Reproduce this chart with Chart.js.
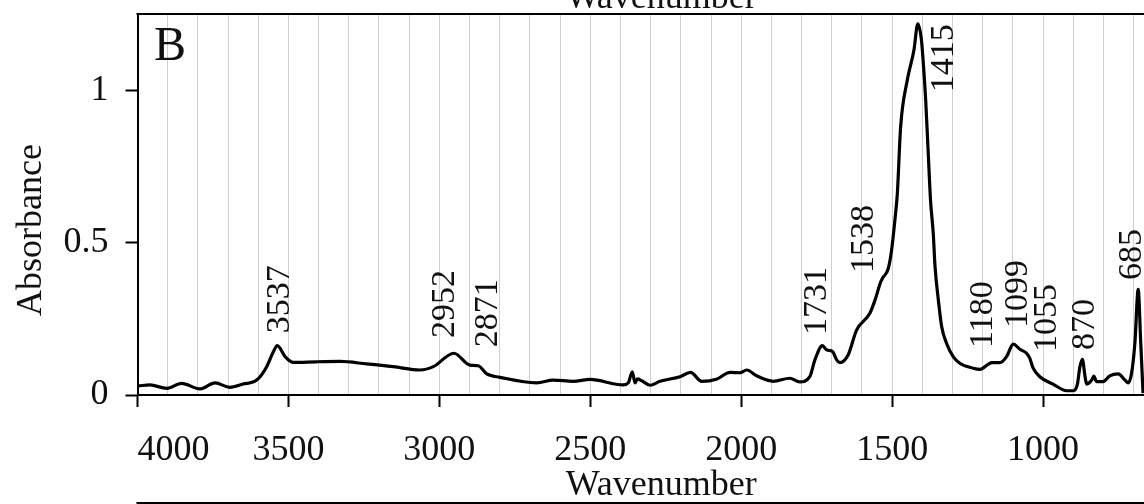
<!DOCTYPE html>
<html>
<head>
<meta charset="utf-8">
<script src="https://cdn.jsdelivr.net/npm/chart.js@4.4.1/dist/chart.umd.min.js"></script>
<style>
  html, body { margin: 0; padding: 0; background: #fff; overflow: hidden; }
  #wrap { width: 1144px; height: 504px; overflow: hidden; position: relative; }
  canvas { display: block; }
</style>
</head>
<body>
<div id="wrap"><canvas id="spectrum" width="1200" height="504"></canvas></div>
<script>
// FTIR spectrum, panel B
const wavenumbers = [
  3997, 3959, 3903, 3854, 3793, 3743, 3694, 3650, 3605, 3572, 3550, 3537, 3511, 3484,
  3406, 3329, 3241, 3153, 3064, 3020, 2952, 2899, 2871, 2843, 2799, 2678, 2623, 2557,
  2501, 2391, 2374, 2361, 2352, 2344, 2330, 2302, 2269, 2203, 2168, 2131, 2082, 2037,
  2004, 1982, 1949, 1894, 1839, 1806, 1773, 1756, 1731, 1717, 1697, 1684, 1673, 1646,
  1618, 1574, 1557, 1538, 1532, 1513, 1502, 1491, 1483, 1472, 1450, 1428, 1415, 1403,
  1396, 1389, 1381, 1373, 1364, 1358, 1347, 1336, 1320, 1298, 1276, 1232, 1209, 1180,
  1171, 1143, 1121, 1099, 1077, 1055, 1044, 1033, 1011, 966, 922, 900, 887, 878,
  870, 861, 856, 839, 832, 823, 801, 779, 751, 729, 718, 707, 696, 685,
  677, 669
];
const absorbance = [
  0.030, 0.033, 0.022, 0.038, 0.020, 0.040, 0.025, 0.036, 0.049, 0.093, 0.142, 0.162, 0.126, 0.107,
  0.109, 0.110, 0.102, 0.093, 0.082, 0.093, 0.137, 0.098, 0.096, 0.069, 0.058, 0.040, 0.049, 0.045,
  0.051, 0.033, 0.040, 0.076, 0.040, 0.053, 0.047, 0.032, 0.045, 0.060, 0.074, 0.045, 0.052, 0.074,
  0.073, 0.082, 0.063, 0.045, 0.055, 0.043, 0.060, 0.115, 0.162, 0.148, 0.142, 0.115, 0.106, 0.131,
  0.213, 0.268, 0.311, 0.371, 0.383, 0.415, 0.475, 0.574, 0.660, 0.880, 1.033, 1.131, 1.218, 1.164,
  1.076, 0.967, 0.803, 0.639, 0.531, 0.421, 0.311, 0.224, 0.170, 0.126, 0.104, 0.088, 0.084, 0.102,
  0.106, 0.106, 0.126, 0.167, 0.150, 0.137, 0.120, 0.088, 0.060, 0.035, 0.014, 0.014, 0.033, 0.093,
  0.117, 0.060, 0.036, 0.049, 0.062, 0.044, 0.044, 0.063, 0.069, 0.049, 0.040, 0.071, 0.170, 0.347,
  0.180, 0.006
];
const xTickLabels = [4000, 3500, 3000, 2500, 2000, 1500, 1000];
const yTickLabels = [0, 0.5, 1];
const peakLabels = ['3537', '2952', '2871', '1731', '1538', '1415', '1180', '1099', '1055', '870', '685'];

// where each vertical peak label begins: [wavenumber, absorbance]
const peakLabelAnchors = [
  [3528, 0.203], [2981, 0.187], [2839, 0.157], [1748, 0.197], [1594, 0.400], [1327, 0.993],
  [1199, 0.154], [1083, 0.220], [988, 0.141], [862, 0.148], [706, 0.377]
];

const SERIF = "'Liberation Serif', 'Times New Roman', serif";
const INK = '#111';

const decorations = {
  id: 'decorations',
  afterDraw(chart) {
    const { ctx, chartArea: a, scales: { x, y } } = chart;
    ctx.save();
    // frame: top and right edges
    ctx.strokeStyle = '#000';
    ctx.lineWidth = 2;
    ctx.beginPath();
    ctx.moveTo(a.left - 1, a.top);
    ctx.lineTo(a.right, a.top);
    ctx.lineTo(a.right, a.bottom);
    ctx.stroke();
    // edge of the neighbouring panel below
    ctx.beginPath();
    ctx.moveTo(a.left - 1, 503);
    ctx.lineTo(chart.width, 503);
    ctx.stroke();

    ctx.fillStyle = INK;
    // axis title of the panel above, partly visible
    ctx.font = `36px ${SERIF}`;
    ctx.textAlign = 'center';
    ctx.textBaseline = 'alphabetic';
    ctx.fillText('Wavenumber', (a.left + a.right) / 2, 8);

    // panel letter
    ctx.font = `48px ${SERIF}`;
    ctx.textAlign = 'left';
    ctx.fillText('B', 154, 60);

    // y axis title
    ctx.font = `36px ${SERIF}`;
    ctx.save();
    ctx.translate(41, 230);
    ctx.rotate(-Math.PI / 2);
    ctx.textAlign = 'center';
    ctx.textBaseline = 'alphabetic';
    ctx.fillText('Absorbance', 0, 0);
    ctx.restore();

    // peak labels
    ctx.font = `34px ${SERIF}`;
    peakLabels.forEach((txt, i) => {
      const [wn, ab] = peakLabelAnchors[i];
      ctx.save();
      ctx.translate(x.getPixelForValue(wn), y.getPixelForValue(ab));
      ctx.rotate(-Math.PI / 2);
      ctx.textAlign = 'left';
      ctx.textBaseline = 'middle';
      ctx.fillText(txt, 0, 0);
      ctx.restore();
    });
    ctx.restore();
  }
};

new Chart(document.getElementById('spectrum'), {
  type: 'line',
  data: {
    datasets: [{
      data: wavenumbers.map((w, i) => ({ x: w, y: absorbance[i] })),
      borderColor: '#000',
      borderWidth: 3.2,
      pointRadius: 0,
      fill: false,
      cubicInterpolationMode: 'monotone'
    }]
  },
  options: {
    responsive: false,
    devicePixelRatio: 1,
    animation: false,
    layout: { padding: { top: 14, right: 15, bottom: 0, left: 0 } },
    plugins: { legend: { display: false }, tooltip: { enabled: false } },
    scales: {
      x: {
        type: 'linear',
        reverse: true,
        min: 530,
        max: 4000,
        border: { color: '#000', width: 2 },
        grid: {
          color: '#d0d0d0',
          lineWidth: 1,
          tickLength: 12,
          tickWidth: 2,
          tickColor: c => xTickLabels.includes(c.tick.value) ? '#000' : 'rgba(0,0,0,0)'
        },
        ticks: {
          stepSize: 100,
          includeBounds: false,
          autoSkip: false,
          maxRotation: 0,
          minRotation: 0,
          align: 'inner',
          padding: 22,
          color: INK,
          font: { family: SERIF, size: 36 },
          callback: v => xTickLabels.includes(v) ? String(v) : ''
        },
        title: {
          display: true,
          text: 'Wavenumber',
          color: INK,
          padding: 0,
          font: { family: SERIF, size: 36, lineHeight: 1 }
        },
        // list ticks from 4000 downwards so the 4000 label sits inside the plot edge
        afterBuildTicks: s => { s.ticks.reverse(); },
        afterFit: s => { s.height = 109; s.paddingLeft = 0; s.paddingRight = 0; }
      },
      y: {
        min: 0,
        max: 1.25,
        border: { color: '#000', width: 2 },
        grid: {
          drawOnChartArea: false,
          drawTicks: true,
          tickLength: 12,
          tickWidth: 2,
          tickColor: '#000'
        },
        ticks: {
          stepSize: 0.5,
          includeBounds: false,
          padding: 17,
          color: INK,
          font: { family: SERIF, size: 36 },
          callback: v => yTickLabels.includes(v) ? String(v) : ''
        },
        afterFit: s => { s.width = 137.5; s.paddingTop = 0; s.paddingBottom = 0; }
      }
    }
  },
  plugins: [decorations]
});
</script>
</body>
</html>
